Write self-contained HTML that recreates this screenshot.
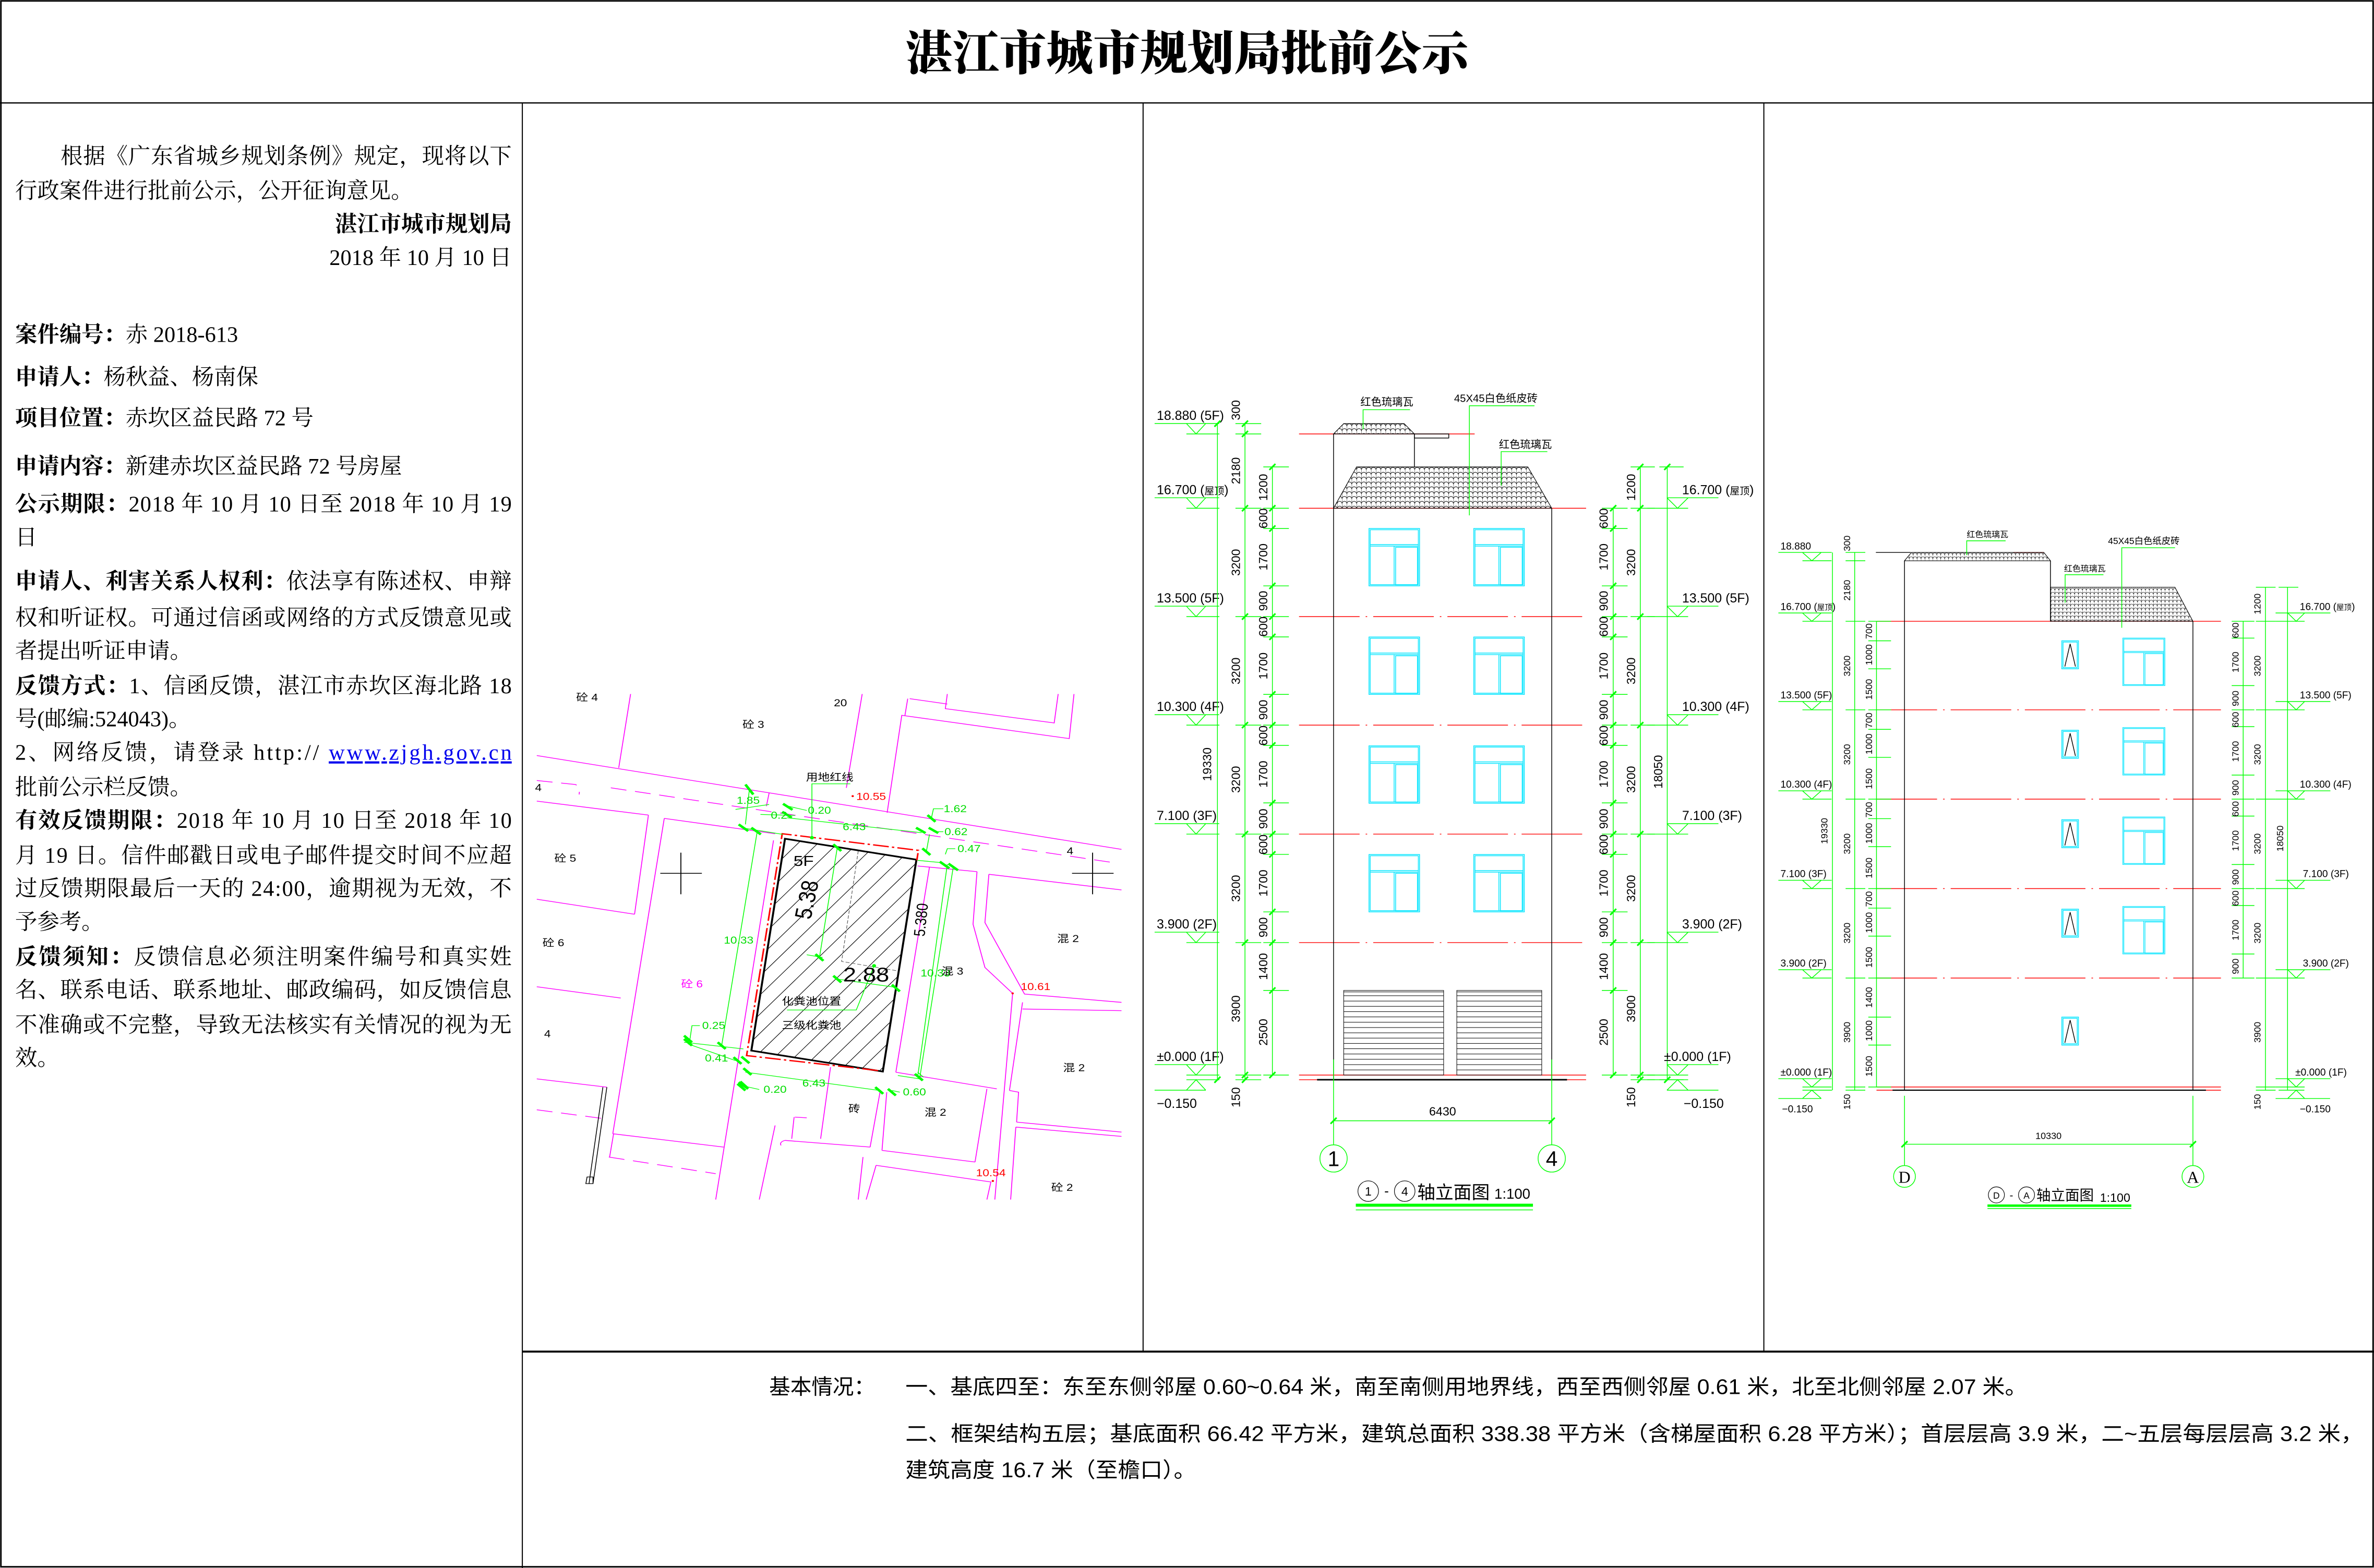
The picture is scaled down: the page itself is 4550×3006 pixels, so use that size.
<!DOCTYPE html>
<html><head><meta charset="utf-8">
<style>
html,body{margin:0;padding:0;background:#fff;}
svg{display:block;}
.ser{font-family:"Liberation Serif","Noto Serif CJK SC",serif;}
.san{font-family:"Liberation Sans","Noto Sans CJK SC",sans-serif;}
.g{stroke:#00ff00;fill:none;stroke-width:0.5}
.r{stroke:#ff0000;fill:none;stroke-width:0.5}
.rd{stroke:#ff0000;fill:none;stroke-width:0.5;stroke-dasharray:40 4 1 4}
.c{stroke:#00e5ff;fill:none;stroke-width:0.5}
.k{stroke:#000;fill:none;stroke-width:0.5}
.dt{font-family:"Liberation Sans","Noto Sans CJK SC",sans-serif;font-size:8px;fill:#000;text-anchor:middle}
.dt2{font-family:"Liberation Sans","Noto Sans CJK SC",sans-serif;font-size:6.2px;fill:#000;text-anchor:middle}
.lv{font-family:"Liberation Sans","Noto Sans CJK SC",sans-serif;font-size:8.6px;fill:#000}
.lv2{font-family:"Liberation Sans","Noto Sans CJK SC",sans-serif;font-size:6.6px;fill:#000}
.m{stroke:#ff00ff;fill:none;stroke-width:2.2}
.md{stroke:#ff00ff;fill:none;stroke-width:2.2;stroke-dasharray:40 22}
.sg{stroke:#00ff00;fill:none;stroke-width:2}
.tk{stroke:#00ff00;stroke-width:7}
.st{font-family:"Liberation Sans","Noto Sans CJK SC",sans-serif;font-size:30px;fill:#000}
</style></head>
<body>
<svg width="4550" height="3006" viewBox="0 0 1568 1036" preserveAspectRatio="none" xmlns="http://www.w3.org/2000/svg">
<defs>
<pattern id="tile" width="3.2" height="3.2" patternUnits="userSpaceOnUse">
<path d="M0,3.2 A1.6,1.6 0 0 1 3.2,3.2 M0,0 V3.2" stroke="#000" stroke-width="0.3" fill="none"/>
</pattern>
<pattern id="tile2" width="2.6" height="2.6" patternUnits="userSpaceOnUse">
<path d="M0,2.6 A1.3,1.3 0 0 1 2.6,2.6 M0,0 V2.6" stroke="#000" stroke-width="0.25" fill="none"/>
</pattern>
<g id="win">
<rect x="0" y="0" width="33.4" height="37.9" class="c"/>
<rect x="0.8" y="0.8" width="31.8" height="36.3" class="c"/>
<path d="M0.8,10.6H32.6 M0.8,11.6H32.6 M16.6,11.6V37.1" class="c"/>
<rect x="17.6" y="12.4" width="14.4" height="24.8" class="c"/>
</g>
<g id="sw">
<rect x="0" y="0" width="11" height="18.5" class="c"/>
<rect x="0.8" y="0.8" width="9.4" height="16.9" class="c"/>
<path d="M2,17 L5.5,2 L9,17" class="k" stroke-width="0.4"/>
</g>
<path id="mlL" d="M-27.4,-6.9H15.3 M-6.4,-6.9L0,0L6.4,-6.9 M-6.4,0H15.4" class="g"/>
<path id="mlR" d="M-7,-6.9H27 M-7,-6.9L0,0L7,-6.9 M-20,0H7" class="g"/>
<path id="mlL2" d="M-22.1,-5.5H13.1 M-6.2,-5.5L0,0L6.2,-5.5 M-6.2,0H13" class="g"/>
<path id="mlR2" d="M-13.6,-5.5H22.6 M-5.6,-5.5L0,0L5.6,-5.5 M-13.6,0H5.6" class="g"/>
<path id="tick" d="M-2,2L2,-2" stroke="#00ff00" stroke-width="1.1"/>
<clipPath id="bclip"><polygon points="665,483 997,546 912,1183 580,1120"/></clipPath>
</defs>

<!-- frame -->
<rect x="0.6" y="0.6" width="1566.8" height="1034.6" fill="none" stroke="#000" stroke-width="1"/>
<line x1="0" y1="68" x2="1568" y2="68" stroke="#000" stroke-width="0.8"/>
<line x1="345" y1="68" x2="345" y2="1036" stroke="#000" stroke-width="0.7"/>
<line x1="755" y1="68" x2="755" y2="893" stroke="#000" stroke-width="0.7"/>
<line x1="1165" y1="68" x2="1165" y2="893" stroke="#000" stroke-width="0.7"/>
<line x1="345" y1="893" x2="1568" y2="893" stroke="#000" stroke-width="1.3"/>

<text x="784" y="46" text-anchor="middle" class="ser" font-size="31" font-weight="900" fill="#000">湛江市城市规划局批前公示</text>

<!-- left text -->
<g class="ser" font-size="14.6" fill="#000">
<text x="40" y="108" textLength="298" lengthAdjust="spacing">根据《广东省城乡规划条例》规定，现将以下</text>
<text x="10" y="131">行政案件进行批前公示，公开征询意见。</text>
<text x="338" y="153" text-anchor="end" font-weight="bold">湛江市城市规划局</text>
<text x="338" y="175" text-anchor="end">2018 年 10 月 10 日</text>
<text x="10" y="226"><tspan font-weight="bold">案件编号：</tspan>赤 2018-613</text>
<text x="10" y="254"><tspan font-weight="bold">申请人：</tspan>杨秋益、杨南保</text>
<text x="10" y="281"><tspan font-weight="bold">项目位置：</tspan>赤坎区益民路 72 号</text>
<text x="10" y="313"><tspan font-weight="bold">申请内容：</tspan>新建赤坎区益民路 72 号房屋</text>
<text x="10" y="338" textLength="328" lengthAdjust="spacing"><tspan font-weight="bold">公示期限：</tspan>2018 年 10 月 10 日至 2018 年 10 月 19</text>
<text x="10" y="360">日</text>
<text x="10" y="389" textLength="328" lengthAdjust="spacing"><tspan font-weight="bold">申请人、利害关系人权利：</tspan>依法享有陈述权、申辩</text>
<text x="10" y="413" textLength="328" lengthAdjust="spacing">权和听证权。可通过信函或网络的方式反馈意见或</text>
<text x="10" y="435">者提出听证申请。</text>
<text x="10" y="458" textLength="328" lengthAdjust="spacing"><tspan font-weight="bold">反馈方式：</tspan>1、信函反馈，湛江市赤坎区海北路 18</text>
<text x="10" y="480">号(邮编:524043)。</text>
<text x="10" y="502" textLength="328" lengthAdjust="spacing">2、网络反馈，请登录 http:// <tspan fill="#0000ee" text-decoration="underline">www.zjgh.gov.cn</tspan></text>
<text x="10" y="525">批前公示栏反馈。</text>
<text x="10" y="547" textLength="328" lengthAdjust="spacing"><tspan font-weight="bold">有效反馈期限：</tspan>2018 年 10 月 10 日至 2018 年 10</text>
<text x="10" y="570" textLength="328" lengthAdjust="spacing">月 19 日。信件邮戳日或电子邮件提交时间不应超</text>
<text x="10" y="592" textLength="328" lengthAdjust="spacing">过反馈期限最后一天的 24:00，逾期视为无效，不</text>
<text x="10" y="614">予参考。</text>
<text x="10" y="637" textLength="328" lengthAdjust="spacing"><tspan font-weight="bold">反馈须知：</tspan>反馈信息必须注明案件编号和真实姓</text>
<text x="10" y="659" textLength="328" lengthAdjust="spacing">名、联系电话、联系地址、邮政编码，如反馈信息</text>
<text x="10" y="682" textLength="328" lengthAdjust="spacing">不准确或不完整，导致无法核实有关情况的视为无</text>
<text x="10" y="704">效。</text>
</g>

<!-- bottom text -->
<g class="san" font-size="14" fill="#000">
<text x="508" y="921">基本情况：</text>
<text x="598" y="921" textLength="741" lengthAdjust="spacingAndGlyphs">一、基底四至：东至东侧邻屋 0.60~0.64 米，南至南侧用地界线，西至西侧邻屋 0.61 米，北至北侧邻屋 2.07 米。</text>
<text x="598" y="952" textLength="963" lengthAdjust="spacingAndGlyphs">二、框架结构五层；基底面积 66.42 平方米，建筑总面积 338.38 平方米（含梯屋面积 6.28 平方米）；首层层高 3.9 米，二~五层每层层高 3.2 米，</text>
<text x="598" y="976" textLength="192" lengthAdjust="spacingAndGlyphs">建筑高度 16.7 米（至檐口）。</text>
</g>

<!-- ================= SITE PLAN ================= -->
<svg x="344.6" y="448" width="410" height="344.6" viewBox="0 0 1568 1568" preserveAspectRatio="none">
<g>
<path class="m" d="M38,233 L1515,515"/>
<path class="md" d="M38,308 L135,320 Q148,325 145,350 M225,330 L1495,555"/>
<path class="m" d="M38,370 L320,412 M360,422 L640,468 M1000,565 L1150,582 M1180,590 L1515,637"/>
<path class="m" d="M275,48 L245,270 M320,412 L285,710 M38,665 L285,710 M360,422 L230,1370 M38,928 L250,962 M38,1205 L215,1230"/>
<path class="md" d="M38,1298 L210,1325 M220,1440 L490,1490"/>
<path class="m" d="M230,1370 L510,1410 M636,488 L490,1568 M860,48 L820,330 M625,345 L618,385"/>
<path class="m" d="M1395,48 L1383,182 L960,112 L923,405 M1075,48 L1070,92 L1345,135 L1355,48 M975,62 L968,112 M980,62 L1075,78"/>
<path class="m" d="M1030,568 L945,1185 M1150,582 L1140,740 L1170,870 L1240,948 L1195,1568 M1180,590 L1170,735 L1270,950 L1515,975 M1265,995 L1515,1000 M1265,975 L1232,1240"/>
<path class="m" d="M945,1185 L1200,1235 M910,1420 L1145,1455 M922,1245 L910,1420 M1175,1235 L1145,1455 M1250,1335 L1515,1365 M1248,1350 L1515,1378 M1232,1240 L1255,1245 L1250,1335 M1248,1350 L1235,1568"/>
<path class="m" d="M780,1170 L755,1385 M690,1320 L720,1322 M688,1320 L682,1385 M665,1390 L880,1410 M880,1410 L905,1245 M640,1345 L600,1568 M862,1440 L850,1568 M895,1465 L1185,1515 L1175,1568 M895,1465 L870,1568 M665,1390 Q650,1395 655,1405 M232,1370 L222,1440"/>
<path d="M215,1230 L180,1520 M205,1230 L170,1520 M165,1500 H180 V1520 H162Z" stroke="#000" stroke-width="2" fill="none"/>
<path d="M350,587H455 M402,525V650 M1390,587H1495 M1442,525V650" stroke="#000" stroke-width="2.4"/>
<!-- hatch -->
<g clip-path="url(#bclip)" stroke="#000" stroke-width="1.6">
<path d="M-150,1300 L560,483 M-100,1300 L610,483 M-50,1300 L660,483 M0,1300 L710,483 M50,1300 L760,483 M100,1300 L810,483 M150,1300 L860,483 M200,1300 L910,483 M250,1300 L960,483 M300,1300 L1010,483 M350,1300 L1060,483 M400,1300 L1110,483 M450,1300 L1160,483 M500,1300 L1210,483 M550,1300 L1260,483 M600,1300 L1310,483 M650,1300 L1360,483 M700,1300 L1410,483 M750,1300 L1460,483 M800,1300 L1510,483 M850,1300 L1560,483 M900,1300 L1610,483 M950,1300 L1660,483"/>
</g>
<path d="M850,520 L808,852 L948,880" stroke="#555" stroke-width="1.6" stroke-dasharray="10 5" fill="none"/>
<polygon points="665,483 997,546 912,1183 580,1120" fill="none" stroke="#000" stroke-width="5"/>
<polyline points="900,1180 568,1135 658,468 1002,518 998,548" fill="none" stroke="#ff0000" stroke-width="4" stroke-dasharray="40 8 6 8"/>
<!-- green dims -->
<path class="sg" d="M670,420 L1010,465 M595,460 L505,1105 M565,1185 L905,1240 M1075,560 L1000,1200 M1090,568 L1005,1205 M797,510 L752,840 M720,832 L760,840 M797,905 L945,930 M733,480 L733,318 L830,318 M670,998 L845,998 L890,865 M555,450 L660,470 M575,335 L565,440 M540,395 L625,380 M603,410 L690,413 M672,385 L720,398 M1035,420 L1040,393 L1065,393 M1040,462 L1065,462 M1070,530 L1075,513 L1095,513 M425,1085 L430,1045 L450,1045 M410,1095 L560,1115 M420,1100 L540,1150 M555,1225 L600,1237 M935,1240 L955,1245 M950,1195 L1005,1205 M1000,1185 L1015,1200 M1030,470 L1022,522 M1000,548 L1060,555"/>
<g class="tk">
<path d="M565,320 L585,350 M548,440 L572,460 M580,450 L604,470 M660,378 L684,396 M658,402 L682,420 M996,450 L1020,466 M1028,450 L1052,466 M1025,412 L1045,432 M1012,512 L1032,532 M1056,552 L1080,572 M1078,558 L1102,578 M993,1190 L1013,1210 M893,1230 L913,1250 M925,1235 L945,1255 M548,1215 L572,1235 M560,1173 L580,1193 M555,1138 L575,1158 M535,1140 L555,1160 M410,1085 L430,1105 M495,1095 L515,1115 M787,500 L807,520 M742,830 L762,850 M787,895 L807,915 M935,922 L955,942 M410,1075 L430,1095 M545,1220 L565,1240 M552,1213 L570,1232"/>
</g>
<circle cx="733" cy="480" r="5" fill="#00ff00"/><circle cx="890" cy="865" r="5" fill="#00ff00"/>
<g font-family="Liberation Sans,Noto Sans CJK SC,sans-serif" font-size="30" fill="#00dd00">
<text x="572" y="378" text-anchor="middle">1.85</text>
<text x="752" y="408" text-anchor="middle">0.20</text>
<text x="650" y="423" text-anchor="middle">0.2</text>
<text x="840" y="457" text-anchor="middle">6.43</text>
<text x="1095" y="403" text-anchor="middle">1.62</text>
<text x="1097" y="472" text-anchor="middle">0.62</text>
<text x="1130" y="523" text-anchor="middle">0.47</text>
<text x="548" y="798" text-anchor="middle">10.33</text>
<text x="1045" y="897" text-anchor="middle">10.33</text>
<text x="485" y="1055" text-anchor="middle">0.25</text>
<text x="492" y="1153" text-anchor="middle">0.41</text>
<text x="738" y="1228" text-anchor="middle">6.43</text>
<text x="640" y="1247" text-anchor="middle">0.20</text>
<text x="992" y="1255" text-anchor="middle">0.60</text>
</g>
<g font-family="Liberation Sans,Noto Sans CJK SC,sans-serif" font-size="30" fill="#000">
<text x="165" y="68" text-anchor="middle">砼 4</text>
<text x="805" y="85" text-anchor="middle">20</text>
<text x="585" y="150" text-anchor="middle">砼 3</text>
<text x="42" y="340" text-anchor="middle">4</text>
<text x="110" y="552" text-anchor="middle">砼 5</text>
<text x="80" y="806" text-anchor="middle">砼 6</text>
<text x="65" y="1080" text-anchor="middle">4</text>
<text x="430" y="930" text-anchor="middle" fill="#ff00ff">砼 6</text>
<text x="1380" y="794" text-anchor="middle">混 2</text>
<text x="1088" y="892" text-anchor="middle">混 3</text>
<text x="1395" y="1182" text-anchor="middle">混 2</text>
<text x="840" y="1305" text-anchor="middle">砖</text>
<text x="1045" y="1316" text-anchor="middle">混 2</text>
<text x="1365" y="1542" text-anchor="middle">砼 2</text>
<text x="1385" y="530" text-anchor="middle">4</text>
<text x="778" y="308" text-anchor="middle">用地红线</text>
<text x="732" y="982" text-anchor="middle">化粪池位置</text>
<text x="732" y="1054" text-anchor="middle">三级化粪池</text>
<text x="712" y="565" text-anchor="middle" font-size="44">5F</text>
<text x="870" y="912" text-anchor="middle" font-size="60">2.88</text>
<text transform="translate(740,670) rotate(-80)" text-anchor="middle" font-size="60">5.38</text>
<text transform="translate(1022,728) rotate(-85)" text-anchor="middle" font-size="40">5.380</text>
</g>
<g font-family="Liberation Sans,sans-serif" font-size="30" fill="#ff0000">
<circle cx="836" cy="355" r="3" fill="#ff0000"/>
<text x="845" y="366">10.55</text>
<text x="1298" y="938" text-anchor="middle">10.61</text>
<circle cx="1240" cy="948" r="3" fill="#ff0000"/>
<text x="1185" y="1498" text-anchor="middle">10.54</text>
<circle cx="1190" cy="1512" r="3" fill="#ff0000"/>
</g>
</g>
</svg>

<!-- ================= MIDDLE ELEVATION ================= -->
<g>
<!-- red lines -->
<path class="r" d="M858,286.7H974 M858,335.8H1047.6 M858,710.3H1047.6 M858,713.4H1047.6"/>
<path class="rd" d="M858,407.4H1047.6 M858,479.1H1047.6 M858,551.1H1047.6 M858,622.8H1047.6"/>
<!-- building -->
<path class="k" d="M880.8,335.8V713.4 M1024.9,335.8V713.4 M934.2,286.7V308.5"/>
<polygon points="880.8,286.7 887.5,279.9 927.4,279.9 934.2,286.7" fill="url(#tile)" stroke="#000" stroke-width="0.4"/>
<path class="k" d="M880.8,286.7V335.8"/>
<rect x="934.2" y="286.7" width="22.7" height="2.7" class="k"/>
<polygon points="880.8,335.8 896,308.5 1009.1,308.5 1024.9,335.8" fill="url(#tile)" stroke="#000" stroke-width="0.4"/>
<path d="M869.9,713.4H1035" stroke="#000" stroke-width="1"/>
<!-- windows -->
<use href="#win" x="904.2" y="349.2"/><use href="#win" x="973.4" y="349.2"/>
<use href="#win" x="904.2" y="420.9"/><use href="#win" x="973.4" y="420.9"/>
<use href="#win" x="904.2" y="492.8"/><use href="#win" x="973.4" y="492.8"/>
<use href="#win" x="904.2" y="564.6"/><use href="#win" x="973.4" y="564.6"/>
<!-- garage doors -->
<g stroke="#000" stroke-width="0.35" fill="none">
<rect x="887.5" y="654.4" width="66" height="55.9"/>
<rect x="962.2" y="654.4" width="56.1" height="55.9"/>
<path d="M887.5,655.4H953.5 M887.5,657.9H953.5 M887.5,661.4H953.5 M887.5,664.9H953.5 M887.5,668.4H953.5 M887.5,671.9H953.5 M887.5,675.4H953.5 M887.5,678.9H953.5 M887.5,682.4H953.5 M887.5,685.9H953.5 M887.5,689.4H953.5 M887.5,692.9H953.5 M887.5,696.4H953.5 M887.5,699.9H953.5 M887.5,703.4H953.5 M887.5,706.9H953.5"/>
<path d="M962.2,655.4H1018.3 M962.2,657.9H1018.3 M962.2,661.4H1018.3 M962.2,664.9H1018.3 M962.2,668.4H1018.3 M962.2,671.9H1018.3 M962.2,675.4H1018.3 M962.2,678.9H1018.3 M962.2,682.4H1018.3 M962.2,685.9H1018.3 M962.2,689.4H1018.3 M962.2,692.9H1018.3 M962.2,696.4H1018.3 M962.2,699.9H1018.3 M962.2,703.4H1018.3 M962.2,706.9H1018.3"/>
</g>
<!-- leaders -->
<path class="g" d="M900.3,283.7V270.7H931.3 M970.5,340.5V268.1H1013.5 M991.5,320.8V298.4H1022"/>
<g font-family="Liberation Sans,Noto Sans CJK SC,sans-serif" font-size="7" fill="#000">
<text x="916" y="268" text-anchor="middle">红色琉璃瓦</text>
<text x="988" y="265.5" text-anchor="middle">45X45白色纸皮砖</text>
<text x="1007.5" y="296" text-anchor="middle">红色琉璃瓦</text>
</g>
<!-- left level marks -->
<use href="#mlL" x="790" y="286.7"/><use href="#mlL" x="790" y="335.8"/><use href="#mlL" x="790" y="407.4"/>
<use href="#mlL" x="790" y="479.1"/><use href="#mlL" x="790" y="551.1"/><use href="#mlL" x="790" y="622.8"/>
<use href="#mlL" x="790" y="710.3"/>
<path class="g" d="M762.6,720.3H796.4 M783.6,720.3L790,713.4L796.4,720.3 M783.6,713.4H805.4"/>
<g class="lv">
<text x="764" y="277.4">18.880 (5F)</text>
<text x="764" y="326.5">16.700 (<tspan font-size="6.5">屋顶</tspan>)</text>
<text x="764" y="398.1">13.500 (5F)</text>
<text x="764" y="469.8">10.300 (4F)</text>
<text x="764" y="541.8">7.100 (3F)</text>
<text x="764" y="613.5">3.900 (2F)</text>
<text x="764" y="701">±0.000 (1F)</text>
<text x="764" y="732">−0.150</text>
</g>
<!-- left dims -->
<path class="g" d="M804.1,279.9V713.4 M822.3,279.9V713.4 M840.4,308.5V710.3"/>
<path class="g" d="M816,279.9H833 M816,286.7H833 M816,335.8H833 M816,407.4H833 M816,479.1H833 M816,551.1H833 M816,622.8H833 M816,710.3H833 M816,713.4H833"/>
<path class="g" d="M834.4,308.5H851.3 M834.4,335.8H851.3 M834.4,349.2H851.3 M834.4,387.1H851.3 M834.4,407.4H851.3 M834.4,420.8H851.3 M834.4,458.8H851.3 M834.4,479.1H851.3 M834.4,492.5H851.3 M834.4,530.5H851.3 M834.4,551.1H851.3 M834.4,564.5H851.3 M834.4,602.5H851.3 M834.4,622.8H851.3 M834.4,654.4H851.3 M834.4,710.3H851.3"/>
<g>
<use href="#tick" x="804.1" y="279.9"/><use href="#tick" x="804.1" y="713.4"/>
<use href="#tick" x="822.3" y="279.9"/><use href="#tick" x="822.3" y="286.7"/><use href="#tick" x="822.3" y="335.8"/><use href="#tick" x="822.3" y="407.4"/><use href="#tick" x="822.3" y="479.1"/><use href="#tick" x="822.3" y="551.1"/><use href="#tick" x="822.3" y="622.8"/><use href="#tick" x="822.3" y="710.3"/><use href="#tick" x="822.3" y="713.4"/>
<use href="#tick" x="840.4" y="308.5"/><use href="#tick" x="840.4" y="335.8"/><use href="#tick" x="840.4" y="349.2"/><use href="#tick" x="840.4" y="387.1"/><use href="#tick" x="840.4" y="407.4"/><use href="#tick" x="840.4" y="420.8"/><use href="#tick" x="840.4" y="458.8"/><use href="#tick" x="840.4" y="479.1"/><use href="#tick" x="840.4" y="492.5"/><use href="#tick" x="840.4" y="530.5"/><use href="#tick" x="840.4" y="551.1"/><use href="#tick" x="840.4" y="564.5"/><use href="#tick" x="840.4" y="602.5"/><use href="#tick" x="840.4" y="622.8"/><use href="#tick" x="840.4" y="654.4"/><use href="#tick" x="840.4" y="710.3"/>
</g>
<g class="dt">
<text transform="translate(800,505) rotate(-90)">19330</text>
<text transform="translate(819,271) rotate(-90)">300</text>
<text transform="translate(819,311) rotate(-90)">2180</text>
<text transform="translate(819,371.6) rotate(-90)">3200</text>
<text transform="translate(819,443.3) rotate(-90)">3200</text>
<text transform="translate(819,515) rotate(-90)">3200</text>
<text transform="translate(819,587) rotate(-90)">3200</text>
<text transform="translate(819,666.5) rotate(-90)">3900</text>
<text transform="translate(819,725) rotate(-90)">150</text>
<text transform="translate(837,322) rotate(-90)">1200</text>
<text transform="translate(837,342.5) rotate(-90)">600</text>
<text transform="translate(837,368) rotate(-90)">1700</text>
<text transform="translate(837,397) rotate(-90)">900</text>
<text transform="translate(837,414) rotate(-90)">600</text>
<text transform="translate(837,440) rotate(-90)">1700</text>
<text transform="translate(837,469) rotate(-90)">900</text>
<text transform="translate(837,486) rotate(-90)">600</text>
<text transform="translate(837,511.5) rotate(-90)">1700</text>
<text transform="translate(837,541) rotate(-90)">900</text>
<text transform="translate(837,558) rotate(-90)">600</text>
<text transform="translate(837,583.5) rotate(-90)">1700</text>
<text transform="translate(837,612.7) rotate(-90)">900</text>
<text transform="translate(837,638.6) rotate(-90)">1400</text>
<text transform="translate(837,682) rotate(-90)">2500</text>
</g>
<!-- right dims -->
<path class="g" d="M1065.5,335.8V710.3 M1083.4,308.5V713.4 M1101.2,308.5V713.4"/>
<path class="g" d="M1058,335.8H1075 M1058,349.2H1075 M1058,387.1H1075 M1058,407.4H1075 M1058,420.8H1075 M1058,458.8H1075 M1058,479.1H1075 M1058,492.5H1075 M1058,530.5H1075 M1058,551.1H1075 M1058,564.5H1075 M1058,602.5H1075 M1058,622.8H1075 M1058,654.4H1075 M1058,710.3H1075"/>
<path class="g" d="M1077,308.5H1093 M1077,335.8H1093 M1077,407.4H1093 M1077,479.1H1093 M1077,551.1H1093 M1077,622.8H1093 M1077,710.3H1093 M1077,713.4H1093 M1096,308.5H1112 M1096,713.4H1112"/>
<g>
<use href="#tick" x="1065.5" y="335.8"/><use href="#tick" x="1065.5" y="349.2"/><use href="#tick" x="1065.5" y="387.1"/><use href="#tick" x="1065.5" y="407.4"/><use href="#tick" x="1065.5" y="420.8"/><use href="#tick" x="1065.5" y="458.8"/><use href="#tick" x="1065.5" y="479.1"/><use href="#tick" x="1065.5" y="492.5"/><use href="#tick" x="1065.5" y="530.5"/><use href="#tick" x="1065.5" y="551.1"/><use href="#tick" x="1065.5" y="564.5"/><use href="#tick" x="1065.5" y="602.5"/><use href="#tick" x="1065.5" y="622.8"/><use href="#tick" x="1065.5" y="654.4"/><use href="#tick" x="1065.5" y="710.3"/>
<use href="#tick" x="1083.4" y="308.5"/><use href="#tick" x="1083.4" y="335.8"/><use href="#tick" x="1083.4" y="407.4"/><use href="#tick" x="1083.4" y="479.1"/><use href="#tick" x="1083.4" y="551.1"/><use href="#tick" x="1083.4" y="622.8"/><use href="#tick" x="1083.4" y="710.3"/><use href="#tick" x="1083.4" y="713.4"/>
<use href="#tick" x="1101.2" y="308.5"/><use href="#tick" x="1101.2" y="713.4"/>
</g>
<g class="dt">
<text transform="translate(1062,342.5) rotate(-90)">600</text>
<text transform="translate(1062,368) rotate(-90)">1700</text>
<text transform="translate(1062,397) rotate(-90)">900</text>
<text transform="translate(1062,414) rotate(-90)">600</text>
<text transform="translate(1062,440) rotate(-90)">1700</text>
<text transform="translate(1062,469) rotate(-90)">900</text>
<text transform="translate(1062,486) rotate(-90)">600</text>
<text transform="translate(1062,511.5) rotate(-90)">1700</text>
<text transform="translate(1062,541) rotate(-90)">900</text>
<text transform="translate(1062,558) rotate(-90)">600</text>
<text transform="translate(1062,583.5) rotate(-90)">1700</text>
<text transform="translate(1062,612.7) rotate(-90)">900</text>
<text transform="translate(1062,638.6) rotate(-90)">1400</text>
<text transform="translate(1062,682) rotate(-90)">2500</text>
<text transform="translate(1080,322) rotate(-90)">1200</text>
<text transform="translate(1080,371.6) rotate(-90)">3200</text>
<text transform="translate(1080,443.3) rotate(-90)">3200</text>
<text transform="translate(1080,515) rotate(-90)">3200</text>
<text transform="translate(1080,587) rotate(-90)">3200</text>
<text transform="translate(1080,666.5) rotate(-90)">3900</text>
<text transform="translate(1080,725) rotate(-90)">150</text>
<text transform="translate(1098,510) rotate(-90)">18050</text>
</g>
<use href="#mlR" x="1108" y="335.8"/><use href="#mlR" x="1108" y="407.4"/><use href="#mlR" x="1108" y="479.1"/>
<use href="#mlR" x="1108" y="551.1"/><use href="#mlR" x="1108" y="622.8"/><use href="#mlR" x="1108" y="710.3"/>
<path class="g" d="M1101,720.3H1135 M1101,720.3L1108,713.4L1115,720.3 M1088,713.4H1115"/>
<g class="lv">
<text x="1111" y="326.5">16.700 (<tspan font-size="6.5">屋顶</tspan>)</text>
<text x="1111" y="398.1">13.500 (5F)</text>
<text x="1111" y="469.8">10.300 (4F)</text>
<text x="1111" y="541.8">7.100 (3F)</text>
<text x="1111" y="613.5">3.900 (2F)</text>
<text x="1099" y="701">±0.000 (1F)</text>
<text x="1112" y="732">−0.150</text>
</g>
<!-- axes -->
<path class="g" d="M880.8,700V756.4 M1024.9,700V756.4 M880.8,740.5H1024.9"/>
<use href="#tick" x="880.8" y="740.5"/><use href="#tick" x="1024.9" y="740.5"/>
<text x="952.8" y="737" class="dt" font-size="9">6430</text>
<circle cx="880.8" cy="765.4" r="9" class="g" stroke-width="0.6"/>
<circle cx="1024.9" cy="765.4" r="9" class="g" stroke-width="0.6"/>
<text x="880.8" y="770.5" text-anchor="middle" font-family="Liberation Sans,sans-serif" font-size="14" fill="#000">1</text>
<text x="1024.9" y="770.5" text-anchor="middle" font-family="Liberation Sans,sans-serif" font-size="14" fill="#000">4</text>
<circle cx="903.7" cy="787" r="6.8" fill="none" stroke="#000" stroke-width="0.4"/>
<circle cx="927.8" cy="787" r="6.8" fill="none" stroke="#000" stroke-width="0.4"/>
<g font-family="Liberation Sans,Noto Sans CJK SC,sans-serif" fill="#000">
<text x="903.7" y="790" text-anchor="middle" font-size="8">1</text>
<text x="915.8" y="790" text-anchor="middle" font-size="9">-</text>
<text x="927.8" y="790" text-anchor="middle" font-size="8">4</text>
<text x="936" y="792" font-size="12">轴立面图</text>
<text x="987" y="792" font-size="9.5">1:100</text>
</g>
<rect x="895.5" y="795.3" width="117" height="2" fill="#00ff00"/>
<path class="g" d="M895.5,799.4H1012.5"/>
</g>

<!-- ================= RIGHT ELEVATION ================= -->
<g>
<path class="r" d="M1239.4,718.2H1466.9 M1239.4,720.3H1466.9 M1239.4,410.5H1466.9 M1330,365H1350"/>
<path class="rd" d="M1239.4,469H1466.9 M1239.4,528H1466.9 M1239.4,587.1H1466.9 M1239.4,646.2H1466.9"/>
<path class="k" d="M1257.9,370.5V720.3 M1448.4,410.5V720.3 M1354.3,370.5V410.5 M1239,365H1262"/>
<polygon points="1257.9,370.5 1262.5,365 1349.9,365 1354.3,370.5" fill="url(#tile2)" stroke="#000" stroke-width="0.4"/>
<polygon points="1354.3,410.5 1354.3,388 1436.5,388 1448.4,410.5" fill="url(#tile2)" stroke="#000" stroke-width="0.4"/>
<path d="M1250,720.3H1457" stroke="#000" stroke-width="0.8"/>
<g transform="translate(1402.1,421.6) scale(0.832,0.828)"><use href="#win"/></g>
<g transform="translate(1402.1,480.7) scale(0.832,0.828)"><use href="#win"/></g>
<g transform="translate(1402.1,539.8) scale(0.832,0.828)"><use href="#win"/></g>
<g transform="translate(1402.1,598.9) scale(0.832,0.828)"><use href="#win"/></g>
<use href="#sw" x="1361.8" y="423.4"/><use href="#sw" x="1361.8" y="482.5"/><use href="#sw" x="1361.8" y="541.6"/>
<use href="#sw" x="1361.8" y="600.7"/><use href="#sw" x="1361.8" y="672"/>
<path class="g" d="M1299,366.8V357.3H1324.7 M1401.4,414.8V361.9H1436.6 M1364,398.2V379.7H1389.3"/>
<g font-family="Liberation Sans,Noto Sans CJK SC,sans-serif" font-size="5.5" fill="#000">
<text x="1312.7" y="355" text-anchor="middle">红色琉璃瓦</text>
<text x="1416" y="359.5" text-anchor="middle" font-size="6">45X45白色纸皮砖</text>
<text x="1377" y="377.5" text-anchor="middle">红色琉璃瓦</text>
</g>
<!-- left level marks -->
<use href="#mlL2" x="1196.7" y="370.5"/><use href="#mlL2" x="1196.7" y="410.5"/><use href="#mlL2" x="1196.7" y="469"/>
<use href="#mlL2" x="1196.7" y="528"/><use href="#mlL2" x="1196.7" y="587.1"/><use href="#mlL2" x="1196.7" y="646.2"/><use href="#mlL2" x="1196.7" y="718.2"/>
<path class="g" d="M1174.6,725.8H1202.9 M1190.5,725.8L1196.7,720.3L1202.9,725.8 M1190.5,720.3H1210"/>
<g class="lv2">
<text x="1176" y="363">18.880</text>
<text x="1176" y="403">16.700 (<tspan font-size="5">屋顶</tspan>)</text>
<text x="1176" y="461.5">13.500 (5F)</text>
<text x="1176" y="520.5">10.300 (4F)</text>
<text x="1176" y="579.6">7.100 (3F)</text>
<text x="1176" y="638.7">3.900 (2F)</text>
<text x="1176" y="710.7">±0.000 (1F)</text>
<text x="1177" y="735">−0.150</text>
</g>
<path class="g" d="M1210.3,365V720.3 M1225,365V720.3 M1239.4,410.5V718.2"/>
<path class="g" d="M1219,365H1232 M1219,370.5H1232 M1219,410.5H1232 M1219,469H1232 M1219,528H1232 M1219,587.1H1232 M1219,646.2H1232 M1219,718.2H1232 M1219,720.3H1232"/>
<path class="g" d="M1234,410.5H1249 M1234,423.4H1249 M1234,441.9H1249 M1234,469H1249 M1234,481.9H1249 M1234,500.4H1249 M1234,528H1249 M1234,540.9H1249 M1234,559.4H1249 M1234,587.1H1249 M1234,600H1249 M1234,618.5H1249 M1234,646.2H1249 M1234,672H1249 M1234,690.5H1249 M1234,718.2H1249"/>
<g class="dt2">
<text transform="translate(1207,549) rotate(-90)">19330</text>
<text transform="translate(1222,359) rotate(-90)">300</text>
<text transform="translate(1222,390) rotate(-90)">2180</text>
<text transform="translate(1222,440) rotate(-90)">3200</text>
<text transform="translate(1222,498.5) rotate(-90)">3200</text>
<text transform="translate(1222,557.5) rotate(-90)">3200</text>
<text transform="translate(1222,616.5) rotate(-90)">3200</text>
<text transform="translate(1222,682) rotate(-90)">3900</text>
<text transform="translate(1222,728) rotate(-90)">150</text>
<text transform="translate(1236.5,417) rotate(-90)">700</text>
<text transform="translate(1236.5,432.6) rotate(-90)">1000</text>
<text transform="translate(1236.5,455.5) rotate(-90)">1500</text>
<text transform="translate(1236.5,476) rotate(-90)">700</text>
<text transform="translate(1236.5,491.6) rotate(-90)">1000</text>
<text transform="translate(1236.5,514.5) rotate(-90)">1500</text>
<text transform="translate(1236.5,535) rotate(-90)">700</text>
<text transform="translate(1236.5,550.6) rotate(-90)">1000</text>
<text transform="translate(1236.5,573.5) rotate(-90)">1500</text>
<text transform="translate(1236.5,594) rotate(-90)">700</text>
<text transform="translate(1236.5,609.6) rotate(-90)">1000</text>
<text transform="translate(1236.5,632.5) rotate(-90)">1500</text>
<text transform="translate(1236.5,659) rotate(-90)">1400</text>
<text transform="translate(1236.5,681) rotate(-90)">1000</text>
<text transform="translate(1236.5,704.5) rotate(-90)">1500</text>
</g>
<!-- right dims -->
<path class="g" d="M1481.6,410.5V646.2 M1496.3,388V720.3 M1510.9,388V720.3"/>
<path class="g" d="M1474,410.5H1489 M1474,421.6H1489 M1474,453H1489 M1474,469H1489 M1474,480.1H1489 M1474,512.1H1489 M1474,528H1489 M1474,539.2H1489 M1474,571.2H1489 M1474,587.1H1489 M1474,598.3H1489 M1474,630.3H1489 M1474,646.2H1489"/>
<path class="g" d="M1490,388H1503 M1490,410.5H1503 M1490,469H1503 M1490,528H1503 M1490,587.1H1503 M1490,646.2H1503 M1490,718.2H1503 M1490,720.3H1503 M1505,388H1518"/>
<g class="dt2">
<text transform="translate(1478.5,416.5) rotate(-90)">600</text>
<text transform="translate(1478.5,437.5) rotate(-90)">1700</text>
<text transform="translate(1478.5,461.5) rotate(-90)">900</text>
<text transform="translate(1478.5,475.5) rotate(-90)">600</text>
<text transform="translate(1478.5,496.5) rotate(-90)">1700</text>
<text transform="translate(1478.5,520.5) rotate(-90)">900</text>
<text transform="translate(1478.5,534.5) rotate(-90)">600</text>
<text transform="translate(1478.5,555.5) rotate(-90)">1700</text>
<text transform="translate(1478.5,579.5) rotate(-90)">900</text>
<text transform="translate(1478.5,593.5) rotate(-90)">600</text>
<text transform="translate(1478.5,614.5) rotate(-90)">1700</text>
<text transform="translate(1478.5,638.5) rotate(-90)">900</text>
<text transform="translate(1493,399) rotate(-90)">1200</text>
<text transform="translate(1493,440) rotate(-90)">3200</text>
<text transform="translate(1493,498.5) rotate(-90)">3200</text>
<text transform="translate(1493,557.5) rotate(-90)">3200</text>
<text transform="translate(1493,616.5) rotate(-90)">3200</text>
<text transform="translate(1493,682) rotate(-90)">3900</text>
<text transform="translate(1493,728) rotate(-90)">150</text>
<text transform="translate(1508,554) rotate(-90)">18050</text>
</g>
<use href="#mlR2" x="1516.6" y="410.5"/><use href="#mlR2" x="1516.6" y="469"/><use href="#mlR2" x="1516.6" y="528"/>
<use href="#mlR2" x="1516.6" y="587.1"/><use href="#mlR2" x="1516.6" y="646.2"/><use href="#mlR2" x="1516.6" y="718.2"/>
<path class="g" d="M1503,725.8H1539 M1511,725.8L1516.6,720.3L1522.2,725.8 M1505,720.3H1522"/>
<g class="lv2">
<text x="1519" y="403">16.700 (<tspan font-size="5">屋顶</tspan>)</text>
<text x="1519" y="461.5">13.500 (5F)</text>
<text x="1519" y="520.5">10.300 (4F)</text>
<text x="1521" y="579.6">7.100 (3F)</text>
<text x="1521" y="638.7">3.900 (2F)</text>
<text x="1516" y="710.7">±0.000 (1F)</text>
<text x="1519" y="735">−0.150</text>
</g>
<!-- axes -->
<path class="g" d="M1257.9,724V770 M1448.4,724V770 M1257.9,756H1448.4"/>
<use href="#tick" x="1257.9" y="756"/><use href="#tick" x="1448.4" y="756"/>
<text x="1353" y="752.5" class="dt2" font-size="7">10330</text>
<circle cx="1257.9" cy="777.3" r="7.2" class="g" stroke-width="0.6"/>
<circle cx="1448.4" cy="777.3" r="7.2" class="g" stroke-width="0.6"/>
<text x="1257.9" y="781.5" text-anchor="middle" font-family="Liberation Serif,serif" font-size="11" fill="#000">D</text>
<text x="1448.4" y="781.5" text-anchor="middle" font-family="Liberation Serif,serif" font-size="11" fill="#000">A</text>
<circle cx="1318.6" cy="789.5" r="5.3" fill="none" stroke="#000" stroke-width="0.4"/>
<circle cx="1338.5" cy="789.5" r="5.3" fill="none" stroke="#000" stroke-width="0.4"/>
<g font-family="Liberation Sans,Noto Sans CJK SC,sans-serif" fill="#000">
<text x="1318.6" y="792" text-anchor="middle" font-size="6">D</text>
<text x="1328.5" y="792" text-anchor="middle" font-size="7">-</text>
<text x="1338.5" y="792" text-anchor="middle" font-size="6">A</text>
<text x="1345" y="793" font-size="9.5">轴立面图</text>
<text x="1387" y="794" font-size="8">1:100</text>
</g>
<rect x="1312.7" y="795.8" width="95" height="1.6" fill="#00ff00"/>
<path class="g" d="M1312.7,798.5H1407.7"/>
</g>
</svg>
</body></html>
